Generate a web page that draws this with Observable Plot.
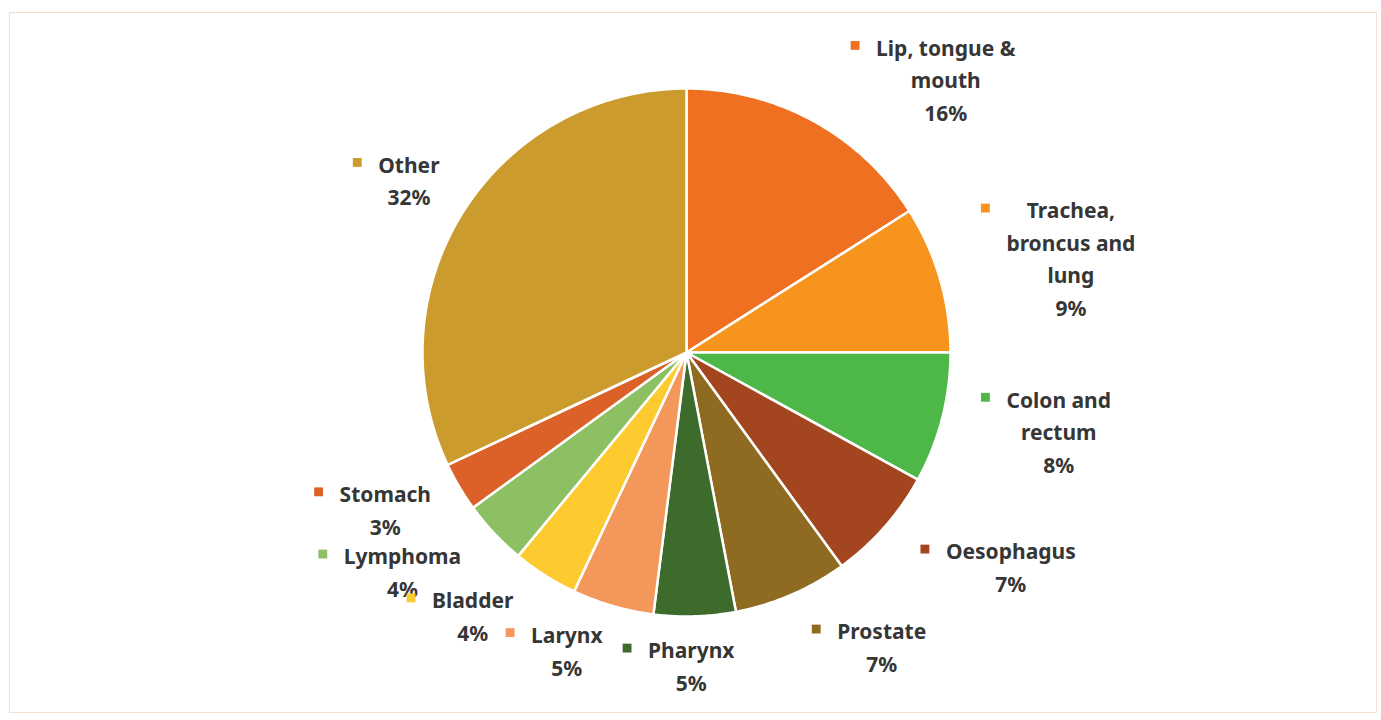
<!DOCTYPE html>
<html>
<head>
<meta charset="utf-8">
<script src="https://cdn.jsdelivr.net/npm/d3@7"></script>
<script src="https://cdn.jsdelivr.net/npm/@observablehq/plot@0.6"></script>
<style>
  html, body { margin: 0; padding: 0; background: #ffffff; }
  #wrap { position: relative; width: 1381px; height: 720px; overflow: hidden; }
  #frame { position: absolute; left: 9px; top: 12px; width: 1368px; height: 701px;
           border: 1.5px solid #F1DFD1; box-sizing: border-box; pointer-events: none; }
  #chart { position: absolute; left: 0; top: 0; }
</style>
</head>
<body>
<div id="wrap"><div id="chart"></div><div id="frame"></div></div>
<script>
// ---- data ----
const categories = ["Lip, tongue & mouth", "Trachea, broncus and lung", "Colon and rectum", "Oesophagus",
  "Prostate", "Pharynx", "Larynx", "Bladder", "Lymphoma", "Stomach", "Other"];
const labelLines = ["Lip, tongue &\nmouth", "Trachea,\nbroncus and\nlung", "Colon and\nrectum", "Oesophagus",
  "Prostate", "Pharynx", "Larynx", "Bladder", "Lymphoma", "Stomach", "Other"];
const shares = [16, 9, 8, 7, 7, 5, 5, 4, 4, 3, 32];
const colors = ["#F07022", "#F7941E", "#4DB848", "#A3461F", "#8E6B20", "#3D6B2B",
  "#F3975A", "#FDCB30", "#8DC063", "#DC6128", "#CB9C2D"];

// ---- layout (pixels) ----
const W = 1381, H = 720;
const cx = 686, cy = 352, R = 264, labelR = 343;
const fontSize = 21, lineSpacing = 32.5, fontFamily = "'Noto Sans', Lato, sans-serif";
const labelNudge = [[94, -26], [55, 0], [40, 8], [67, 14], [59, 22], [-6, 31], [-24, 33], [-30, 28], [-34, 17], [-6, 19], [12, -10]];

const arcs = d3.pie().sort(null).value(d => d)(shares);

// slice polygons in pie-centred coordinates (y up)
const slicePts = [];
arcs.forEach((a, i) => {
  const name = categories[i];
  slicePts.push({name, x: 0, y: 0});
  const n = Math.max(2, Math.ceil((a.endAngle - a.startAngle) / (Math.PI / 360)));
  for (let k = 0; k <= n; k++) {
    const t = a.startAngle + (a.endAngle - a.startAngle) * k / n;
    slicePts.push({name, x: R * Math.sin(t), y: R * Math.cos(t)});
  }
  slicePts.push({name, x: 0, y: 0});
});

// text measuring
const ctx = document.createElement("canvas").getContext("2d");
ctx.font = `bold ${fontSize}px 'Noto Sans'`;

const labels = arcs.map((a, i) => {
  const mid = (a.startAngle + a.endAngle) / 2;
  const text = `${labelLines[i]}\n${shares[i]}%`;
  const lines = text.split("\n");
  const x = labelR * Math.sin(mid) + labelNudge[i][0];
  const y = labelR * Math.cos(mid) + labelNudge[i][1];
  const maxW = d3.max(lines, l => ctx.measureText(l).width);
  return {
    name: categories[i], text, x, y,
    kx: x - maxW / 2 - 21,
    ky: y + (lines.length - 1) / 2 * lineSpacing
  };
});

const chart = Plot.plot({
  width: W, height: H,
  margin: 0,
  x: {domain: [-cx, W - cx], axis: null},
  y: {domain: [-(H - cy), cy], axis: null},
  color: {domain: categories, range: colors},
  style: {background: "transparent", fontFamily},
  marks: [
    Plot.line(slicePts, {x: "x", y: "y", z: "name", fill: "name", stroke: "#ffffff",
      strokeWidth: 2.5, strokeLinejoin: "round", curve: "linear"}),
    Plot.text(labels, {x: "x", y: "y", text: "text", fontSize, fontWeight: "bold",
      fill: "#363636", lineHeight: lineSpacing / fontSize, lineAnchor: "middle", textAnchor: "middle",
      fontFamily}),
    Plot.dot(labels, {x: "kx", y: "ky", fill: "name", symbol: "square", r: 5, stroke: null})
  ]
});
document.getElementById("chart").appendChild(chart);
</script>
</body>
</html>
